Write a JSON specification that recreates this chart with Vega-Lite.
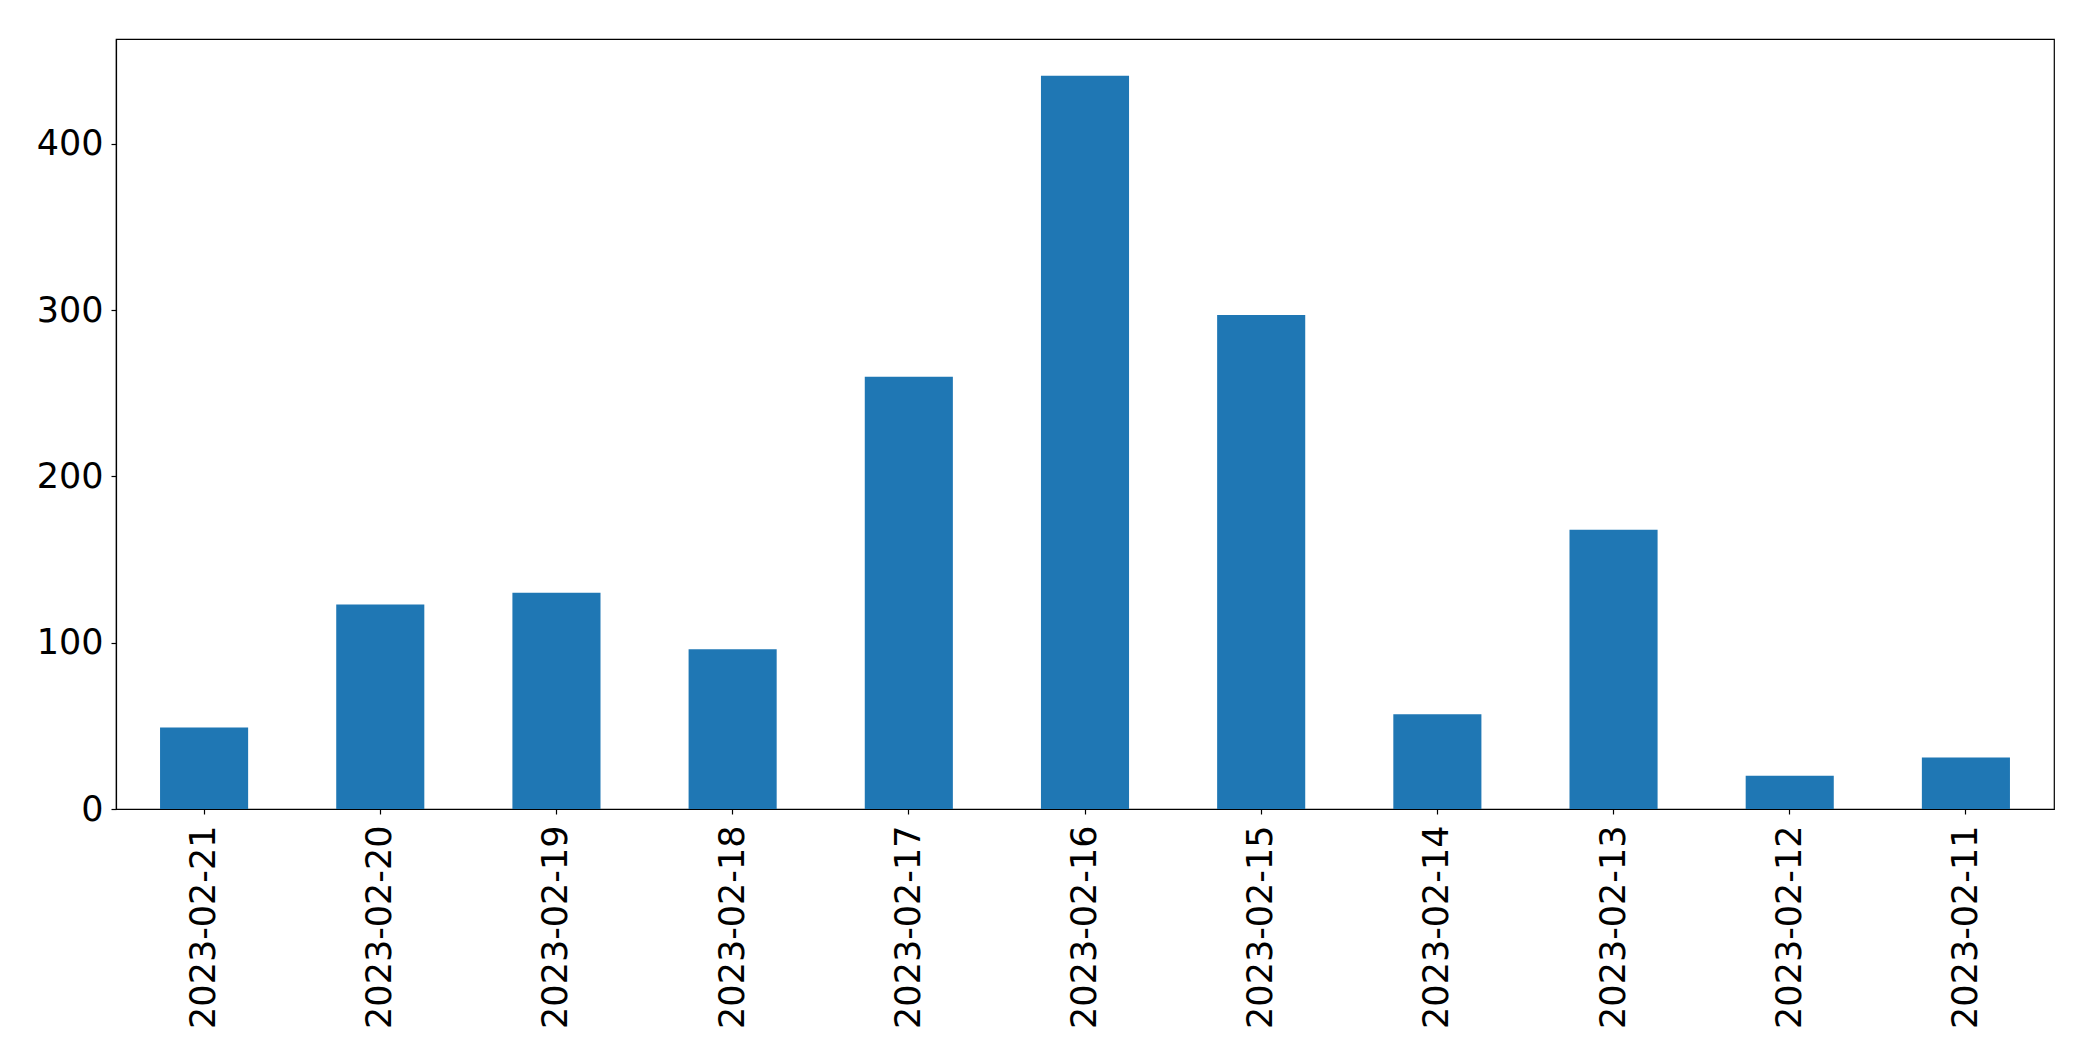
{
  "$schema": "https://vega.github.io/schema/vega-lite/v6.json",
  "autosize": {"type": "none"},
  "width": 1938,
  "height": 770,
  "padding": {"left": 116, "top": 39, "right": 39, "bottom": 252},
  "background": "white",
  "config": {
    "view": {"stroke": "#000000", "strokeWidth": 1.2},
    "axis": {
      "labelFont": "DejaVu Sans",
      "labelFontSize": 35,
      "labelColor": "#000000",
      "labelLimit": 0,
      "tickColor": "#000000",
      "tickSize": 5,
      "tickWidth": 1.2,
      "domainColor": "#000000",
      "domainWidth": 1.2,
      "grid": false,
      "title": null
    }
  },
  "data": {
    "values": [
      {"date": "2023-02-21", "count": 49},
      {"date": "2023-02-20", "count": 123},
      {"date": "2023-02-19", "count": 130},
      {"date": "2023-02-18", "count": 96},
      {"date": "2023-02-17", "count": 260},
      {"date": "2023-02-16", "count": 441},
      {"date": "2023-02-15", "count": 297},
      {"date": "2023-02-14", "count": 57},
      {"date": "2023-02-13", "count": 168},
      {"date": "2023-02-12", "count": 20},
      {"date": "2023-02-11", "count": 31}
    ]
  },
  "mark": {"type": "bar", "color": "#1f77b4"},
  "encoding": {
    "x": {
      "field": "date",
      "type": "nominal",
      "sort": null,
      "scale": {"paddingInner": 0.5, "paddingOuter": 0.25},
      "axis": {"labelAngle": -90, "labelAlign": "right", "labelBaseline": "middle", "labelPadding": 11}
    },
    "y": {
      "field": "count",
      "type": "quantitative",
      "scale": {"domain": [0, 463.05], "nice": false, "zero": true},
      "axis": {"values": [0, 100, 200, 300, 400], "labelPadding": 8}
    }
  }
}
